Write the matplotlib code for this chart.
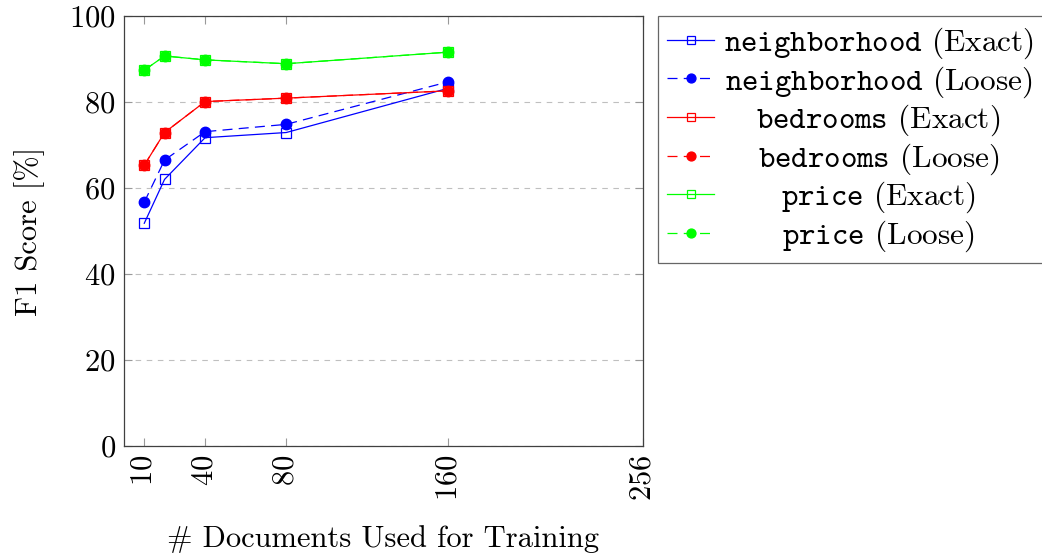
import matplotlib
matplotlib.use("Agg")
import matplotlib.pyplot as plt

plt.rcParams["font.family"] = "serif"
plt.rcParams["font.serif"] = ["cmr10"]
plt.rcParams["mathtext.fontset"] = "cm"
plt.rcParams["axes.unicode_minus"] = False
plt.rcParams["axes.formatter.use_mathtext"] = True

docs = [10, 20, 40, 80, 160]
neigh_exact = [51.8, 62.0, 71.7, 72.9, 83.2]
neigh_loose = [56.7, 66.5, 73.1, 74.8, 84.7]
bed_exact = [65.3, 72.9, 80.1, 80.9, 82.6]
bed_loose = [65.3, 72.9, 80.1, 80.9, 82.6]
price_exact = [87.4, 90.7, 89.8, 88.9, 91.6]
price_loose = [87.4, 90.7, 89.8, 88.9, 91.6]

xticks = [10, 40, 80, 160, 256]
yticks = [0, 20, 40, 60, 80, 100]

series = [
    (neigh_exact, "neighborhood", "Exact", "blue"),
    (neigh_loose, "neighborhood", "Loose", "blue"),
    (bed_exact, "bedrooms", "Exact", "red"),
    (bed_loose, "bedrooms", "Loose", "red"),
    (price_exact, "price", "Exact", "lime"),
    (price_loose, "price", "Loose", "lime"),
]

fig = plt.figure(figsize=(10.42, 5.58), dpi=100)
ax = fig.add_axes([124 / 1042, 1 - 446 / 558, (643 - 124) / 1042, (446 - 16) / 558])

for vals, name, kind, col in series:
    label = r"$\mathtt{" + name + "}$ (" + kind + ")"
    if kind == "Exact":
        ax.plot(docs, vals, color=col, lw=0.9, marker="s", ms=7.5,
                mfc="none", mec=col, mew=0.9, label=label)
    else:
        ax.plot(docs, vals, color=col, lw=0.9, ls=(0, (8, 5)), marker="o",
                ms=7.5, mfc=col, mec=col, label=label)

ax.set_xlim(0, 256)
ax.set_ylim(0, 100)
ax.set_xticks(xticks)
ax.set_yticks(yticks)
ax.tick_params(axis="x", labelrotation=90)
ax.tick_params(direction="in", top=True, right=True, color="0.6",
               length=6, width=0.8, labelsize=22, pad=6)
ax.yaxis.grid(True, ls=(0, (5, 5)), color="0.75", lw=0.8)
ax.set_axisbelow(True)
for s in ax.spines.values():
    s.set_color("0.25")
    s.set_linewidth(0.9)

ax.set_xlabel("# Documents Used for Training", fontsize=22, labelpad=17)
ax.set_ylabel("F1 Score [%]", fontsize=22, labelpad=17)

leg = ax.legend(loc="upper left", bbox_to_anchor=(658 / 1042, 1 - 16 / 558),
                bbox_transform=fig.transFigure, fontsize=22.5, frameon=True,
                fancybox=False, edgecolor="0.25", handlelength=1.5,
                handletextpad=0.3, borderpad=0.3, labelspacing=0.1,
                borderaxespad=0, markerscale=0.85)
leg.get_frame().set_linewidth(0.9)

# center legend text like pgfplots
fig.canvas.draw()
r = fig.canvas.get_renderer()
texts = leg.get_texts()
widths = [t.get_window_extent(r).width for t in texts]
maxw = max(widths)
for t, w in zip(texts, widths):
    t.set_x((maxw - w) / 2)

fig.savefig("out.png", dpi=100)
